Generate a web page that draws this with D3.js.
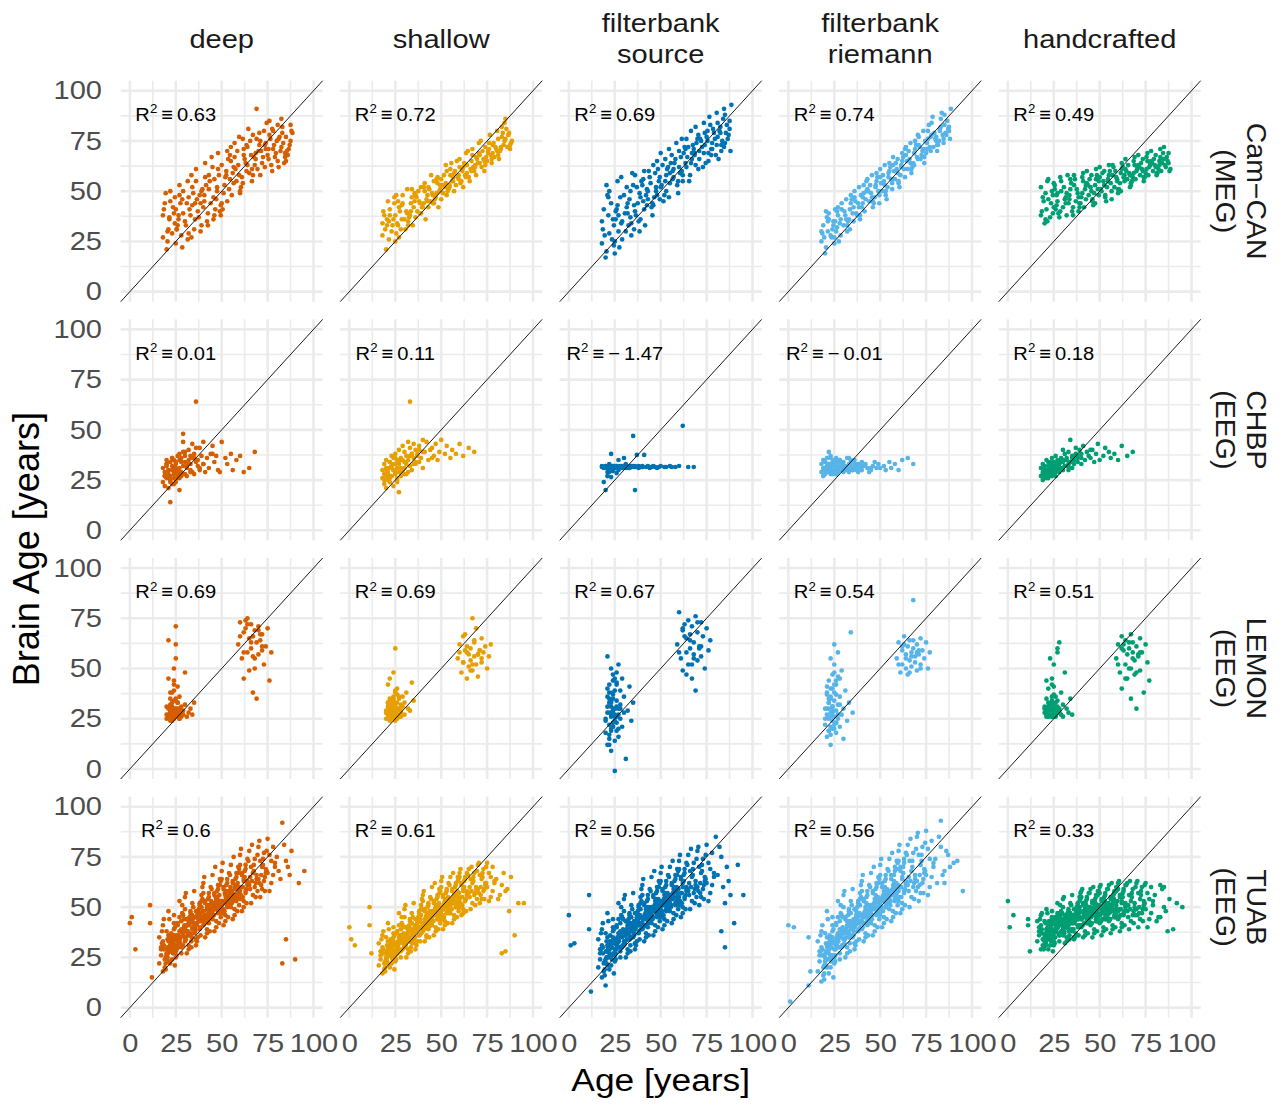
<!DOCTYPE html>
<html>
<head>
<meta charset="utf-8">
<script src="https://cdn.jsdelivr.net/npm/d3@7"></script>
<style>
  body { margin: 0; background: #fff; }
  text { font-family: "Liberation Sans", Arial, Helvetica, sans-serif; }
</style>
</head>
<body>
<svg id="chart" width="1282" height="1105"></svg>
<script>
// facets
var models = ['deep', 'shallow', 'filterbank\nsource', 'filterbank\nriemann', 'handcrafted'];
var datasets = ['Cam\u2212CAN\n(MEG)', 'CHBP\n(EEG)', 'LEMON\n(EEG)', 'TUAB\n(EEG)'];
var colors = ['#D55E00', '#E69F00', '#0072B2', '#56B4E9', '#009E73'];
var ticks = [0, 25, 50, 75, 100];
var minorTicks = [12.5, 37.5, 62.5, 87.5];

var camcanR2 = [0.63, 0.72, 0.69, 0.74, 0.49];
var chbpR2 = [0.01, 0.11, -1.47, -0.01, 0.18];
var lemonR2 = [0.69, 0.69, 0.67, 0.54, 0.51];
var tuabR2 = [0.6, 0.61, 0.56, 0.56, 0.33];

// Cam-CAN (MEG): true age, then predicted brain age per model (one row of 10 per age block)
var camcanAge = [
  18,19,20,18,21,19.5,20.5,21.5,18.5,20.5, 22,23,24,25,22,24.5,23.5,25.5,21.5,24.5,
  26,27,28,25,27,26.5,28.5,27.5,26.5,25.5, 29,30,31,32,29,31.5,30.5,28.5,32.5,31.5,
  33,34,35,32,34,33.5,35.5,34.5,33.5,35.5, 36,37,38,39,36,38.5,37.5,39.5,36.5,38.5,
  40,41,42,39,41,40.5,42.5,41.5,40.5,42.5, 43,44,45,46,43,45.5,44.5,46.5,43.5,45.5,
  47,48,49,46,48,47.5,49.5,48.5,47.5,49.5, 50,51,52,53,50,52.5,51.5,53.5,50.5,52.5,
  54,55,56,53,55,54.5,56.5,55.5,54.5,56.5, 57,58,59,60,57,59.5,58.5,60.5,57.5,59.5,
  61,62,63,60,62,61.5,63.5,62.5,61.5,63.5, 64,65,66,67,64,66.5,65.5,67.5,64.5,66.5,
  68,69,70,67,69,68.5,70.5,69.5,68.5,70.5, 71,72,73,74,71,73.5,72.5,74.5,71.5,73.5,
  75,76,77,74,76,75.5,77.5,76.5,75.5,77.5, 78,79,80,81,78,80.5,79.5,81.5,78.5,80.5,
  82,83,84,81,83,82.5,84.5,83.5,82.5,84.5, 85,86,87,88,85,87.5,86.5,88.5,85.5,87.5];
var camcanDeep = [
  27,44,21,38,31,49,25,36,41,30, 45,29,39,24,50,34,42,31,37,47, 33,48,28,41,53,36,22,44,38,31,
  50,35,44,29,39,55,33,46,41,26, 38,52,31,47,43,58,36,49,27,44, 55,40,48,33,61,44,37,51,46,30,
  42,57,35,50,64,45,39,53,48,33, 58,44,62,38,51,47,67,41,55,36, 46,61,40,56,69,50,43,58,52,38,
  63,49,57,70,44,60,53,66,41,58, 51,65,59,45,72,56,62,48,68,54, 67,55,63,49,74,58,70,52,61,77,
  57,71,64,50,68,76,60,66,54,73, 72,59,68,78,63,55,75,67,81,61, 63,76,70,58,91,66,73,61,69,79,
  75,64,80,71,58,73,67,84,70,62, 68,78,63,74,85,71,60,76,66,81, 80,67,75,62,71,83,69,77,73,65,
  70,79,64,76,82,72,67,74,86,69, 77,68,73,80,65,75,71,79,70,83];
var camcanShallow = [
  28,38,21,34,45,31,36,26,40,33, 41,30,36,25,38,44,33,29,35,47, 34,42,31,38,27,45,36,40,33,48,
  44,36,40,33,48,39,31,43,37,51, 38,47,42,35,51,40,45,33,44,49, 48,40,45,52,37,44,50,42,47,39,
  42,50,46,39,54,44,48,36,52,45, 52,45,49,55,42,48,58,46,51,44, 47,54,50,44,57,49,53,42,56,51,
  56,49,52,60,46,54,58,50,53,63, 51,58,55,48,61,53,57,64,52,55, 59,53,57,62,50,56,65,54,60,58,
  55,62,58,66,52,60,57,64,61,69, 63,57,61,68,59,65,55,62,70,60, 60,67,64,71,58,63,69,66,62,74,
  68,62,66,72,64,60,70,67,75,65, 65,71,68,63,74,69,66,78,70,64, 73,67,71,76,69,80,72,66,74,70,
  70,77,73,68,82,72,75,79,71,84, 76,72,79,74,86,71,78,75,81,73];
var camcanSource = [
  24,41,17,35,48,28,20,38,31,53, 29,44,36,19,50,33,26,40,47,23, 41,30,47,25,38,55,34,22,43,36,
  35,48,30,44,26,52,39,57,33,42, 46,34,53,39,28,50,43,59,37,31, 40,52,35,47,58,30,44,55,38,49,
  53,41,48,36,60,45,51,33,56,43, 46,57,42,63,50,38,54,47,60,44, 59,48,55,43,65,52,46,61,50,57,
  52,63,48,58,69,55,45,61,53,66, 62,54,68,50,59,71,56,64,47,60, 57,66,53,70,61,49,74,59,64,55,
  67,58,72,62,55,76,64,69,60,71, 62,72,58,69,76,64,55,73,67,80, 71,63,76,66,82,69,61,74,68,78,
  66,75,62,79,70,84,72,64,76,69, 77,69,83,73,65,80,71,87,75,68, 71,79,68,84,74,89,76,66,81,73,
  80,73,86,77,70,82,91,75,79,72, 74,83,78,70,88,81,76,93,79,85];
var camcanRiemann = [
  25,33,19,30,37,27,22,35,29,40, 36,28,31,24,39,33,27,41,30,35, 30,38,34,27,42,32,36,25,40,35,
  41,33,38,30,44,36,40,28,35,46, 36,44,39,33,48,41,35,46,31,42, 47,39,44,36,50,42,38,48,45,52,
  42,49,46,38,53,44,50,40,47,55, 51,45,49,42,56,47,53,44,50,58, 47,55,50,45,59,52,48,57,53,44,
  57,50,55,48,61,53,58,46,54,63, 52,60,56,50,64,57,54,62,59,51, 63,56,61,54,67,59,64,52,60,66,
  58,65,61,55,69,62,57,67,63,71, 68,61,66,59,72,64,70,62,65,74, 64,71,67,61,75,69,66,73,63,78,
  73,66,70,64,77,71,68,75,72,80, 69,76,72,67,80,74,70,83,71,77, 78,72,76,70,84,75,79,73,87,77,
  75,82,78,73,86,80,76,89,81,74, 83,78,81,76,88,80,85,91,79,82];
var camcanHand = [
  38,47,34,52,41,45,36,55,40,49, 46,37,50,42,56,39,44,53,35,48, 41,49,37,54,45,43,57,39,48,51,
  50,42,46,38,55,47,52,40,58,44, 44,51,40,49,56,46,42,54,48,38, 53,45,49,42,58,47,51,44,56,40,
  47,55,51,44,59,49,53,42,57,46, 54,48,52,45,60,50,56,43,53,58, 49,56,51,46,61,53,48,58,44,55,
  57,50,55,47,62,53,59,45,51,60, 52,58,54,48,63,56,50,60,55,46, 58,52,57,49,63,55,60,51,62,56,
  54,61,57,51,64,59,55,62,50,58, 61,56,59,53,66,58,63,55,60,52, 57,63,60,54,67,59,62,56,65,61,
  63,58,61,55,68,60,64,57,62,66, 59,65,62,57,69,61,64,58,67,63, 65,60,63,58,70,62,66,59,64,68,
  61,67,64,59,71,63,66,60,65,69, 66,62,65,60,72,64,67,61,63,69];

// CHBP (EEG)
var chbpAge = [
  18,18,19,19,19,20,20,20,21,21, 21,22,22,22,23,23,23,24,24,24, 25,25,25,26,26,26,27,27,27,28,
  28,28,29,29,30,30,30,31,31,32, 32,33,33,34,34,35,35,36,36,37, 37,38,38,39,40,40,41,42,43,44,
  45,46,47,48,49,50,52,53,55,56, 58,60,62,65,68,22,24,27,29,33, 19,20,21,22,23,24,25,26,27,28,
  20,22,24,26,28,30,32,34,36,38, 21,23,25,27,29,31,33,35,40,45];
var chbpDeep = [
  24,31,27,22,29,35,26,33,21,28, 30,25,34,27,23,32,36,28,26,31, 33,29,24,37,30,27,35,31,26,34,
  29,36,32,48,28,34,39,31,27,35, 40,30,33,43,36,28,38,64,34,32, 35,41,30,37,33,44,29,36,31,38,
  42,34,37,30,29,44,36,33,38,30, 35,37,29,31,39,14,23,20,44,37, 27,33,30,24,36,29,31,26,38,28,
  32,25,35,30,27,37,33,29,41,31, 26,30,34,28,39,32,29,36,33,38];
var chbpShallow = [
  26,30,23,33,28,21,35,27,31,25, 29,34,24,31,37,27,32,22,36,30, 33,28,38,31,25,35,40,29,34,27,
  36,31,42,30,34,39,28,37,33,44, 35,41,32,38,30,43,36,33,40,37, 38,34,42,36,45,31,39,44,35,40,
  41,37,43,35,39,45,38,42,36,40, 38,43,37,41,39,26,30,19,35,64, 25,31,28,34,27,30,36,24,33,29,
  30,27,33,26,35,31,29,38,34,40, 27,32,29,35,30,28,37,33,39,36];
var chbpSource = [
  31.5,32,31.5,31,24,20,32,31.5,27,31, 31.5,32,29,31.5,38,26.5,31.5,32,31,29.5,
  31.5,32,31,28.5,31.5,32,31,30,31.5,32, 31.5,31,32,31.5,36,31.5,32,31,31.5,32,
  31.5,32,31,31.5,32,31.5,47,20,31.5,37.5, 31.5,32,31,31.5,32,31.5,37.5,31.5,32,31,
  31.5,32,31.5,31,31.5,32,31.5,31.5,32,31.5, 31.5,32,52,31.5,31.5,33,31.5,35,31.5,32,
  31.5,32,31,31.5,32,30,31.5,32,31.5,31, 31.5,31,32,31.5,31.5,32,31,31.5,32,31.5,
  29,31.5,32,31.5,31,33,31.5,32,31.5,31.5];
var chbpRiemann = [
  29,33,30,27,35,31,28,34,30,32, 36,29,33,31,28,37,30,34,32,29, 33,30,35,28,32,36,31,29,34,30,
  32,35,30,33,29,31,34,32,30,36, 31,33,29,34,32,30,31,33,35,30, 32,29,33,31,34,30,32,33,31,29,
  30,32,34,31,33,31,32,30,34,31, 33,30,35,36,33,39,28,34,31,30, 31,34,29,32,36,30,33,28,31,35,
  30,33,31,29,34,32,30,35,31,33, 32,29,34,30,33,31,36,30,32,31];
var chbpHand = [
  27,31,25,29,33,26,30,28,35,27, 29,32,26,34,28,31,30,27,33,36, 30,34,28,32,37,29,31,35,33,30,
  33,29,36,31,40,34,30,38,32,35, 36,32,39,34,45,31,37,35,33,41, 38,34,37,40,33,36,42,35,39,37,
  36,40,34,38,43,35,37,41,39,36, 38,35,42,37,39,30,28,31,34,33, 28,32,26,30,34,29,31,27,33,30,
  29,27,31,33,30,35,32,34,37,36, 30,28,33,31,35,32,30,36,38,40];

// LEMON (EEG): young group, elderly group, then more young and elderly
var lemonAge = [
  20,20,21,21,21,22,22,22,22,23, 23,23,23,24,24,24,24,25,25,25, 25,26,26,26,26,27,27,27,28,28,
  28,29,29,30,30,31,32,33,34,35, 21,22,23,24,25,26,27,24,23,25, 26,22,
  59,60,61,62,62,63,64,64,65,65, 66,66,67,67,68,68,69,69,70,70, 71,72,72,73,74,75,76,77,
  21,22,23,24,25,26,22,23,24,25, 20,21,23,24,26,27,22,25,28,24,
  60,62,64,66,68,70,72,63,67,71];
var lemonDeep = [
  27,25,30,26,45,28,32,24,29,26, 31,27,38,25,29,34,26,28,55,30, 26,33,29,41,27,25,30,36,28,26,
  31,27,29,48,32,26,28,30,27,33, 64,35,28,42,71,29,26,50,33,62, 30,38,
  62,73,55,68,45,70,58,75,65,49, 60,72,38,66,55,69,63,35,57,71, 64,59,67,52,61,70,44,58,
  26,28,25,30,27,33,29,24,27,35, 31,27,26,39,28,25,30,27,29,44,
  66,58,72,63,50,69,61,74,56,67];
var lemonShallow = [
  28,25,31,27,33,26,30,24,35,29, 27,32,29,36,26,30,34,28,25,38, 31,27,33,29,40,26,35,30,28,32,
  29,36,31,27,33,38,30,29,43,34, 42,45,32,28,60,37,30,48,34,39, 26,30,
  55,62,48,66,53,59,45,58,51,57, 60,54,75,49,56,63,52,70,57,46, 59,65,53,58,61,50,56,62,
  27,30,25,33,28,26,31,29,35,24, 29,33,27,30,25,36,28,31,26,32,
  58,53,61,49,64,57,55,67,52,59];
var lemonSource = [
  18,25,31,12,40,22,28,15,35,20, 26,33,9,29,44,21,37,24,-1,30, 27,48,19,34,23,52,30,16,39,25,
  32,21,45,28,36,5,29,41,24,33, 56,38,27,47,30,43,20,35,50,26, 31,42,
  62,78,55,69,49,72,58,65,74,52, 60,67,45,71,57,63,39,76,54,68, 61,73,56,66,50,70,59,64,
  28,17,34,23,39,26,12,31,21,45, 24,36,19,29,42,27,33,14,30,38,
  58,70,47,64,55,73,61,66,52,60];
var lemonRiemann = [
  22,30,16,37,27,44,19,33,25,40, 28,12,35,24,47,31,20,38,26,52, 34,23,42,18,29,58,32,25,45,21,
  36,27,49,30,15,39,24,33,68,28, 41,26,55,31,20,37,46,29,35,62, 23,30,
  55,63,48,59,52,66,50,57,61,47, 54,64,58,51,60,84,53,56,62,49, 57,65,52,59,55,63,50,58,
  30,19,36,26,42,23,33,17,28,48, 25,38,21,31,44,27,35,22,32,40,
  52,61,55,48,64,58,50,62,56,59];
var lemonHand = [
  28,31,26,35,29,27,33,40,26,30, 32,27,29,45,28,34,26,30,52,31, 27,36,29,26,33,58,28,31,30,63,
  29,38,27,32,26,48,30,28,35,27, 44,31,55,29,37,27,60,33,28,41, 30,26,
  55,62,48,66,40,59,52,64,45,57, 60,50,67,35,58,63,47,54,30,61, 56,65,49,58,38,62,53,44,
  27,30,28,33,26,29,31,28,36,27, 30,28,32,26,29,34,27,31,28,42,
  52,60,45,63,55,48,58,62,50,57];

// TUAB (EEG)
var tuabAge = [
  0,1,3,11,11,12,85,90,95,83,
  16,17,18,16,17,19,18,17,19,18, 18.5,19.5,17.5,19.5,18.5,20.5,19.5,18.5,20.5,17.5,
  20,21,22,23,24,21,22,20,23,24, 22.5,21.5,24.5,20.5,23.5,22.5,24.5,21.5,20.5,23.5, 21,23,22,24,20,22,21,23,24,22,
  25,26,27,28,29,26,27,25,28,29, 27.5,25.5,29.5,26.5,28.5,27.5,25.5,29.5,26.5,28.5, 26,28,25,27,29,28,26,27,25,29,
  30,31,32,33,34,31,32,30,33,34, 32.5,30.5,34.5,31.5,33.5,32.5,34.5,31.5,30.5,33.5, 31,33,30,32,34,33,31,32,34,30,
  35,36,37,38,39,36,37,35,38,39, 37.5,35.5,39.5,36.5,38.5,37.5,35.5,39.5,36.5,38.5, 36,38,35,37,39,38,36,37,35,39,
  40,41,42,43,44,41,42,40,43,44, 42.5,40.5,44.5,41.5,43.5,42.5,44.5,41.5,40.5,43.5, 41,43,40,42,44,43,41,42,44,40,
  45,46,47,48,49,46,47,45,48,49, 47.5,45.5,49.5,46.5,48.5,47.5,45.5,49.5,46.5,48.5, 46,48,45,47,49,48,46,47,45,49,
  50,51,52,53,54,51,52,50,53,54, 52.5,50.5,54.5,51.5,53.5,52.5,54.5,51.5,50.5,53.5, 51,53,50,52,54,53,51,52,54,50,
  55,56,57,58,59,56,57,55,58,59, 57.5,55.5,59.5,56.5,58.5,57.5,55.5,59.5,56.5,58.5, 56,58,55,57,59,58,56,57,55,59,
  60,61,62,63,64,61,62,60,63,64, 62.5,60.5,64.5,61.5,63.5,62.5,64.5,61.5,60.5,63.5, 61,63,60,62,64,63,61,62,64,60,
  65,66,67,68,69,66,67,65,68,69, 67.5,65.5,69.5,66.5,68.5,67.5,65.5,69.5,66.5,68.5,
  70,71,72,73,74,71,72,70,73,74, 72.5,70.5,74.5,71.5,73.5,72.5,74.5,71.5,70.5,73.5,
  75,76,77,78,79,76,77,75,78,79, 80,82,84,86,88,81,83,85,87,92,
  20.2,21.7,23.2,24.7,22.2,20.7,23.7,21.2,24.2,22.7, 25.2,26.7,28.2,29.7,27.2,25.7,28.7,26.2,29.2,27.7,
  30.2,31.7,33.2,34.7,32.2,30.7,33.7,31.2,34.2,32.7, 35.2,36.7,38.2,39.7,37.2,35.7,38.7,36.2,39.2,37.7,
  40.2,41.7,43.2,44.7,42.2,40.7,43.7,41.2,44.2,42.7, 45.2,46.7,48.2,49.7,47.2,45.7,48.7,46.2,49.2,47.7,
  50.2,51.7,53.2,54.7,52.2,50.7,53.7,51.2,54.2,52.7, 55.2,56.7,58.2,59.7,57.2,55.7,58.7,56.2,59.2,57.7];
var tuabDeep = [
  42,45,29,51,42,15,34,24,68,22,
  22,30,18,35,26,24,41,29,20,33, 31,25,38,22,29,34,19,44,27,32,
  27,36,31,24,42,33,22,38,29,46, 35,28,40,25,32,37,21,44,30,27, 23,34,29,39,26,31,48,28,36,33,
  30,41,35,27,46,33,38,25,43,31, 38,29,44,34,51,32,26,40,36,47, 33,39,28,45,36,30,42,53,34,37,
  35,44,31,48,39,27,42,55,37,46, 43,34,50,38,30,45,40,36,57,33, 38,47,33,41,52,36,44,29,40,49,
  40,48,35,52,44,31,46,58,39,50, 47,38,54,42,36,49,45,60,33,43, 41,51,37,46,56,44,34,48,42,53,
  44,53,39,57,47,35,50,62,42,49, 51,42,59,46,38,54,48,43,65,45, 46,55,41,49,60,44,52,37,47,57,
  48,57,43,61,51,38,54,66,47,53, 55,46,63,50,42,58,52,45,70,49, 50,59,44,53,64,48,56,40,52,61,
  51,60,46,64,54,41,57,68,50,56, 58,49,66,53,45,61,55,48,72,52, 53,62,47,56,67,51,59,43,55,64,
  54,63,49,67,57,44,60,71,53,59, 61,52,69,56,48,64,58,51,75,55, 56,65,50,59,70,54,62,46,58,67,
  58,67,53,71,61,48,64,76,57,63, 65,56,73,60,52,68,62,55,79,59, 60,69,54,63,74,58,66,50,62,71,
  61,70,56,74,64,52,67,78,60,66, 68,59,76,63,55,71,65,58,81,62,
  64,73,59,77,67,55,70,80,63,69, 71,62,78,66,58,74,68,61,83,65,
  67,76,62,80,70,58,73,84,66,72, 75,64,81,70,78,68,92,73,66,62,
  29,34,33,35,30,27,32,36,31,28, 36,33,38,41,34,31,37,30,39,35,
  40,37,43,39,36,41,35,38,44,42, 42,46,40,48,44,39,47,41,45,43,
  48,44,51,46,49,42,50,45,53,47, 50,55,48,53,51,46,56,49,52,54,
  53,57,51,60,55,49,58,52,56,54, 58,55,61,59,54,57,62,53,60,56];
var tuabShallow = [
  40,34,31,50,41,27,28,36,52,27,
  21,28,17,32,24,19,36,26,22,30, 29,23,34,20,27,31,18,38,25,28,
  25,33,29,22,37,30,20,35,27,40, 32,26,36,23,29,34,19,39,28,24, 22,31,27,35,24,29,42,26,33,30,
  28,37,32,25,41,30,35,23,39,29, 34,27,40,31,45,29,24,37,33,42, 30,36,26,41,33,28,38,47,31,35,
  32,40,29,44,36,25,39,49,34,42, 39,31,45,35,28,41,37,33,51,30, 35,43,30,38,47,33,40,27,37,45,
  37,44,33,48,40,29,42,52,36,46, 43,35,49,39,33,45,41,54,31,40, 38,47,34,42,51,40,32,44,39,49,
  41,49,36,52,43,33,46,56,39,45, 47,39,54,42,35,50,44,40,58,42, 42,51,38,45,55,41,48,35,43,53,
  45,53,40,56,47,36,50,60,44,49, 51,43,58,46,39,54,48,42,62,45, 46,55,41,49,59,44,52,38,48,57,
  48,56,43,59,50,39,53,63,47,52, 54,46,61,49,42,57,51,45,65,48, 49,58,44,52,62,47,55,41,51,60,
  51,59,46,62,53,42,56,65,50,55, 57,49,64,52,45,60,54,48,67,51, 52,61,47,55,65,50,58,44,54,63,
  54,62,49,65,56,46,59,67,53,58, 60,52,66,55,48,63,57,51,69,54, 55,64,50,58,67,53,61,47,57,65,
  57,64,52,67,59,49,62,69,56,60, 63,55,68,58,51,65,60,54,70,57,
  59,66,54,69,61,52,64,71,58,62, 65,57,70,60,54,67,62,56,72,59,
  60,67,55,70,62,53,65,72,58,63, 64,56,67,59,65,54,61,58,48,52,
  27,30,25,32,28,26,31,29,24,33, 31,28,34,30,33,29,35,27,32,36,
  34,37,33,38,35,31,39,36,32,40, 38,41,36,42,39,35,44,40,37,43,
  42,45,40,46,43,39,48,44,41,47, 46,49,44,50,47,43,52,48,45,51,
  49,52,48,54,50,46,55,51,47,53, 52,55,51,57,53,49,58,54,50,56];
var tuabSource = [
  46,31,32,56,39,8,30,42,56,38,
  20,29,15,34,24,18,39,27,22,31, 30,23,37,19,27,33,16,42,25,29,
  11,35,29,21,40,31,19,37,26,44, 33,25,39,22,30,36,17,43,28,24, 21,32,27,38,24,30,47,26,35,31,
  29,40,34,25,45,32,37,23,42,30, 37,27,44,32,50,30,24,39,35,46, 31,38,26,44,35,28,41,52,33,36,
  33,43,29,47,38,25,41,54,36,45, 42,32,49,37,28,44,39,34,56,31, 36,46,31,40,51,34,43,27,38,48,
  38,47,33,51,42,29,45,57,37,49, 46,36,53,40,34,48,43,59,31,41, 39,50,35,44,55,42,32,47,40,52,
  42,52,37,56,45,33,49,61,40,47, 50,40,58,44,36,53,46,41,64,43, 44,54,39,47,59,42,51,35,45,56,
  46,56,41,60,49,36,53,65,45,51, 54,44,62,48,40,57,50,43,68,47, 48,58,42,51,63,46,55,38,50,60,
  49,59,44,63,52,39,56,67,48,54, 57,47,65,51,43,60,53,46,70,50, 51,61,45,54,66,49,58,41,53,63,
  52,62,47,66,55,42,59,70,51,57, 60,50,68,54,46,63,56,49,73,53, 54,64,48,57,69,52,61,44,56,66,
  55,65,50,69,58,45,62,73,54,60, 63,53,71,57,49,66,59,52,76,56, 57,67,51,60,72,55,64,47,59,69,
  58,68,53,72,61,49,65,76,57,63, 66,56,74,60,52,69,62,55,79,59,
  60,70,55,74,63,51,67,78,59,65, 68,58,76,62,54,71,64,57,80,61,
  62,72,57,77,65,53,69,81,61,67, 85,80,60,70,56,66,75,52,63,71,
  28,31,26,34,29,25,32,30,27,33, 32,35,30,37,33,29,38,34,31,36,
  36,39,34,41,37,33,42,38,35,40, 40,43,38,45,41,37,46,42,39,44,
  44,47,42,49,45,41,50,46,43,48, 48,51,46,53,49,45,54,50,47,52,
  51,54,49,56,52,48,57,53,50,55, 54,57,52,59,55,51,60,56,53,58];
var tuabRiemann = [
  41,3,40,11,35,18,62,72,58,93,
  18,28,13,33,23,16,38,26,20,30, 29,21,36,17,26,32,14,41,24,28,
  25,35,29,20,41,31,17,37,26,45, 33,24,39,21,30,36,15,44,28,23, 20,32,27,38,23,30,48,25,35,31,
  29,41,34,24,46,32,37,22,43,30, 37,26,45,32,51,30,23,40,35,47, 31,39,25,45,35,27,42,53,33,36,
  34,45,30,49,39,25,43,56,37,47, 43,32,51,38,28,46,40,35,58,32, 37,48,31,41,53,35,44,27,39,50,
  39,49,33,53,43,29,46,59,38,51, 47,36,55,41,34,50,44,61,31,42, 40,52,35,45,57,43,32,48,41,54,
  43,54,37,58,46,33,50,63,41,48, 52,40,60,45,36,55,47,42,66,44, 45,56,39,48,61,43,53,35,46,58,
  47,58,41,62,50,36,54,67,46,52, 56,44,64,49,40,59,51,44,70,48, 49,60,42,52,65,47,57,38,51,62,
  51,62,45,66,54,40,58,71,50,56, 60,48,68,53,44,63,55,48,74,52, 53,64,46,56,69,50,60,42,55,66,
  54,66,48,70,57,43,61,74,53,59, 63,51,72,56,47,66,58,51,77,55, 56,68,49,59,73,54,64,45,58,69,
  58,70,52,74,61,47,65,78,57,63, 67,55,76,60,51,70,62,55,81,59, 60,72,53,64,77,58,68,49,62,73,
  61,73,55,77,64,50,68,81,60,66, 70,58,79,63,54,73,65,58,84,62,
  63,76,57,80,67,53,71,85,62,69, 73,60,82,66,57,76,68,61,87,64,
  66,79,60,83,70,56,74,88,65,72, 74,85,66,78,70,62,80,68,76,73,
  27,31,25,33,29,24,32,30,26,34, 32,36,30,38,33,29,37,34,31,35,
  37,40,35,42,38,34,43,39,36,41, 41,44,39,46,42,38,47,43,40,45,
  45,48,43,50,46,42,51,47,44,49, 49,52,47,54,50,46,55,51,48,53,
  53,56,51,58,54,50,59,55,52,57, 56,59,54,61,57,53,62,58,55,60];
var tuabHand = [
  53,40,46,41,44,28,60,39,50,45,
  33,40,29,43,36,31,46,38,34,41, 39,34,44,30,37,42,29,47,35,38,
  35,42,38,31,45,39,29,43,36,48, 41,34,44,32,38,43,28,47,37,33, 31,40,36,44,33,38,49,35,42,39,
  37,44,40,33,48,39,42,31,46,38, 42,35,47,39,51,37,32,43,41,46, 38,43,33,47,41,36,45,52,39,42,
  39,46,35,49,43,32,45,54,41,47, 45,38,51,42,34,47,44,40,55,36, 41,48,36,44,52,39,46,33,43,50,
  42,49,37,52,45,34,47,56,41,50, 48,39,54,43,36,50,46,57,35,44, 42,51,38,46,55,44,35,49,43,53,
  44,52,38,55,46,35,49,58,42,48, 50,41,57,45,37,53,47,42,59,44, 45,54,40,48,57,43,51,36,46,55,
  45,53,39,56,47,35,50,59,43,49, 52,42,58,46,38,54,48,43,60,45, 46,55,41,49,58,44,52,37,48,56,
  46,54,40,57,48,36,51,60,44,50, 53,43,59,47,39,55,49,44,61,46, 47,56,42,50,59,45,53,38,49,57,
  47,55,41,58,49,37,52,61,45,51, 54,44,60,48,40,56,50,45,62,47, 48,57,43,51,60,46,54,39,50,58,
  48,56,42,59,50,38,53,62,46,52, 55,45,61,49,41,57,51,46,63,48, 49,58,44,52,61,47,55,40,51,59,
  48,56,43,59,50,39,53,62,46,52, 55,45,60,49,42,57,51,46,63,48,
  49,57,44,60,51,40,54,62,47,53, 56,46,61,50,43,58,52,47,63,49,
  49,57,44,60,51,40,54,62,47,53, 56,45,59,48,54,43,61,50,38,52,
  36,40,34,42,38,33,41,39,35,43, 38,42,36,44,40,35,43,41,37,45,
  40,44,38,46,42,37,45,43,39,47, 42,46,40,48,44,39,47,45,41,49,
  44,48,42,50,46,41,49,47,43,51, 45,49,43,51,47,42,50,48,44,52,
  46,50,44,52,48,43,51,49,45,53, 47,51,45,53,49,44,52,50,46,54];

var ages = [camcanAge, chbpAge, lemonAge, tuabAge];
var preds = [
  [camcanDeep, camcanShallow, camcanSource, camcanRiemann, camcanHand],
  [chbpDeep, chbpShallow, chbpSource, chbpRiemann, chbpHand],
  [lemonDeep, lemonShallow, lemonSource, lemonRiemann, lemonHand],
  [tuabDeep, tuabShallow, tuabSource, tuabRiemann, tuabHand]
];
var r2 = [camcanR2, chbpR2, lemonR2, tuabR2];

// layout
var left = 120.7, top0 = 80.7;
var panelW = 202, panelH = 221;
var colStep = 219.5, rowStep = 238.65;
var wide = 1.14; // horizontal text in the figure is a bit wider than Liberation Sans

var svg = d3.select('#chart');
var x = d3.scaleLinear().domain([-5, 105]).range([0, panelW]);
var y = d3.scaleLinear().domain([-5, 105]).range([panelH, 0]);

var grid = minorTicks.map(v => ({ v: v, w: 1.6 }))
  .concat(ticks.map(v => ({ v: v, w: 2.6 })));

function drawPanel(row, col) {
  var g = svg.append('g')
    .attr('transform', `translate(${left + col * colStep},${top0 + row * rowStep})`);

  g.selectAll('.gx').data(grid).enter().append('line')
    .attr('x1', d => x(d.v)).attr('x2', d => x(d.v))
    .attr('y1', 0).attr('y2', panelH)
    .attr('stroke', '#EBEBEB').attr('stroke-width', d => d.w);
  g.selectAll('.gy').data(grid).enter().append('line')
    .attr('y1', d => y(d.v)).attr('y2', d => y(d.v))
    .attr('x1', 0).attr('x2', panelW)
    .attr('stroke', '#EBEBEB').attr('stroke-width', d => d.w);

  var pts = d3.zip(ages[row], preds[row][col]);
  g.append('g').selectAll('circle').data(pts).enter().append('circle')
    .attr('cx', d => x(d[0]))
    .attr('cy', d => y(d[1]))
    .attr('r', 2.35)
    .attr('fill', colors[col]);

  // identity line
  g.append('line')
    .attr('x1', x(-5)).attr('y1', y(-5))
    .attr('x2', x(105)).attr('y2', y(105))
    .attr('stroke', '#000').attr('stroke-width', 0.9);

  // R^2 label
  var v = r2[row][col];
  var t = g.append('text')
    .attr('transform', `translate(${x(25)},${y(85)}) scale(1.06,1)`)
    .attr('text-anchor', 'middle')
    .attr('font-size', 19)
    .attr('fill', '#000');
  t.append('tspan').text('R');
  t.append('tspan').attr('font-size', 12.5).attr('dy', -7.5).text('2');
  t.append('tspan').attr('dy', 7.5)
    .text('\u2009\u2261\u2009' + (v < 0 ? '\u2212\u2009' : '') + Math.abs(v));

  if (row === datasets.length - 1) {
    var ax = g.append('g').attr('transform', `translate(0,${panelH})`)
      .call(d3.axisBottom(x).tickValues(ticks).tickSize(0).tickPadding(16.5));
    ax.select('.domain').remove();
    ax.selectAll('text')
      .attr('font-size', 25.5).attr('fill', '#4D4D4D')
      .attr('font-family', '"Liberation Sans", Arial, sans-serif')
      .attr('transform', `scale(${wide},1)`);
  }
  if (col === 0) {
    var ay = g.append('g')
      .call(d3.axisLeft(y).tickValues(ticks).tickSize(0).tickPadding(18.7));
    ay.select('.domain').remove();
    ay.selectAll('text')
      .attr('x', 0)
      .attr('font-size', 25.5).attr('fill', '#4D4D4D')
      .attr('font-family', '"Liberation Sans", Arial, sans-serif')
      .attr('transform', `translate(-18.7,0) scale(${wide},1)`);
  }
}

datasets.forEach((ds, row) => models.forEach((m, col) => drawPanel(row, col)));

// column strips
models.forEach(function (m, col) {
  var lines = m.split('\n');
  var cx = left + col * colStep + panelW / 2;
  lines.forEach(function (s, i) {
    var by = 47.8 + (i - (lines.length - 1) / 2) * 31;
    svg.append('text')
      .attr('transform', `translate(${cx},${by}) scale(${wide},1)`)
      .attr('text-anchor', 'middle')
      .attr('font-size', 25.5)
      .attr('fill', '#1A1A1A')
      .text(s);
  });
});

// row strips
datasets.forEach(function (ds, row) {
  var lines = ds.split('\n');
  var cy = top0 + row * rowStep + panelH / 2;
  lines.forEach(function (s, i) {
    var bx = 1231.2 + ((lines.length - 1) / 2 - i) * 31;
    svg.append('text')
      .attr('transform', `translate(${bx},${cy}) rotate(90)`)
      .attr('text-anchor', 'middle')
      .attr('font-size', 28.5)
      .attr('fill', '#1A1A1A')
      .text(s);
  });
});

// axis titles
svg.append('text')
  .attr('transform', `translate(${left + (4 * colStep + panelW) / 2},1091) scale(${wide},1)`)
  .attr('text-anchor', 'middle')
  .attr('font-size', 31)
  .text('Age [years]');

svg.append('text')
  .attr('transform', `translate(39.3,${top0 + (3 * rowStep + panelH) / 2}) rotate(-90)`)
  .attr('text-anchor', 'middle')
  .attr('font-size', 36)
  .text('Brain Age [years]');
</script>
</body>
</html>
